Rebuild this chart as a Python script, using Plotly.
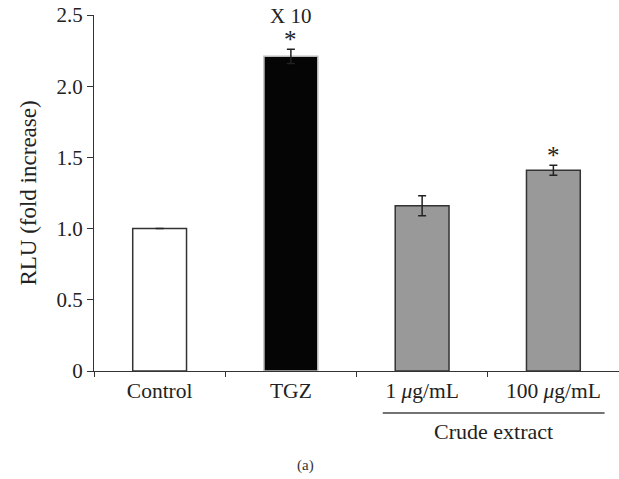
import plotly.graph_objects as go

categories = ["Control", "TGZ", "1 <i>μ</i>g/mL", "100 <i>μ</i>g/mL"]
values = [1.0, 2.21, 1.16, 1.41]
errors = [None, 0.05, 0.07, 0.035]
colors = ["#ffffff", "#050505", "#999999", "#999999"]
line_colors = ["#333333", "#bbbbbb", "#333333", "#333333"]
significant = [False, True, False, True]
y_ticks = [0, 0.5, 1.0, 1.5, 2.0, 2.5]
y_tick_labels = ["0", "0.5", "1.0", "1.5", "2.0", "2.5"]

FONT = "Liberation Serif"
W, H = 619, 479
ml, mr, mt, mb = 94, 0, 15, 108

PLOT_TOP, PLOT_BOTTOM = mt, H - mb  # page pixels
plot_h = PLOT_BOTTOM - PLOT_TOP
def py(px):
    return (PLOT_BOTTOM - px) / plot_h

fig = go.Figure()
fig.add_trace(go.Bar(
    x=categories, y=values,
    width=0.41,
    marker=dict(color=colors, line=dict(color=line_colors, width=1.5)),
    error_y=dict(type="data", array=errors, visible=True,
                 color="#222222", thickness=1.5, width=4),
    showlegend=False,
))

annotations = []
for c, v, e, s in zip(categories, values, errors, significant):
    if s:
        annotations.append(dict(x=c, y=v + e, xref="x", yref="y", text="*",
                                showarrow=False, yanchor="bottom", yshift=-6,
                                font=dict(family=FONT, size=25, color="#222")))
annotations.append(dict(x=categories[1], y=values[1] + errors[1], xref="x", yref="y",
                        text="X 10", showarrow=False, yanchor="bottom", yshift=19,
                        font=dict(family=FONT, size=21, color="#222")))

x_line0, x_line1 = 1.70, 3.39
annotations.append(dict(x=(x_line0 + x_line1) / 2, y=py(431), xref="x", yref="paper",
                        text="Crude extract", showarrow=False, yanchor="middle",
                        font=dict(family=FONT, size=22, color="#222")))
annotations.append(dict(x=(305 - ml) / (W - ml - mr), y=py(465), xref="paper", yref="paper",
                        text="(a)", showarrow=False, yanchor="middle",
                        font=dict(family=FONT, size=15, color="#333")))

fig.add_shape(type="line", xref="x", yref="paper", x0=x_line0, x1=x_line1,
              y0=py(413), y1=py(413), line=dict(color="#444", width=1.5))

fig.update_layout(
    width=W, height=H,
    margin=dict(l=ml, r=mr, t=mt, b=mb, pad=0, autoexpand=False),
    paper_bgcolor="white", plot_bgcolor="white",
    font=dict(family=FONT, size=21, color="#222"),
    annotations=annotations,
)
fig.update_xaxes(
    type="category", tickson="boundaries", ticks="outside", ticklen=5,
    tickwidth=1.2, tickcolor="#333", showline=True, linecolor="#333", linewidth=1.2,
    showgrid=False, zeroline=False, range=[-0.5, 3.5], automargin=False,
    tickfont=dict(family=FONT, size=21.5, color="#222"),
)
fig.update_yaxes(
    range=[0, 2.5001], tickvals=y_ticks, ticktext=y_tick_labels,
    ticks="outside", ticklen=6, tickwidth=1.2, tickcolor="#333",
    showline=True, linecolor="#333", linewidth=1.2, showgrid=False, zeroline=False,
    ticklabeloverflow="allow", automargin=False,
    tickfont=dict(family=FONT, size=21, color="#222"),
    title=dict(text="RLU (fold increase)", font=dict(family=FONT, size=23, color="#222"), standoff=13),
)
fig.write_html(
    "out.html",
    config={"displayModeBar": False},
    post_script="document.body.style.margin='0';document.body.style.overflow='hidden';",
)
